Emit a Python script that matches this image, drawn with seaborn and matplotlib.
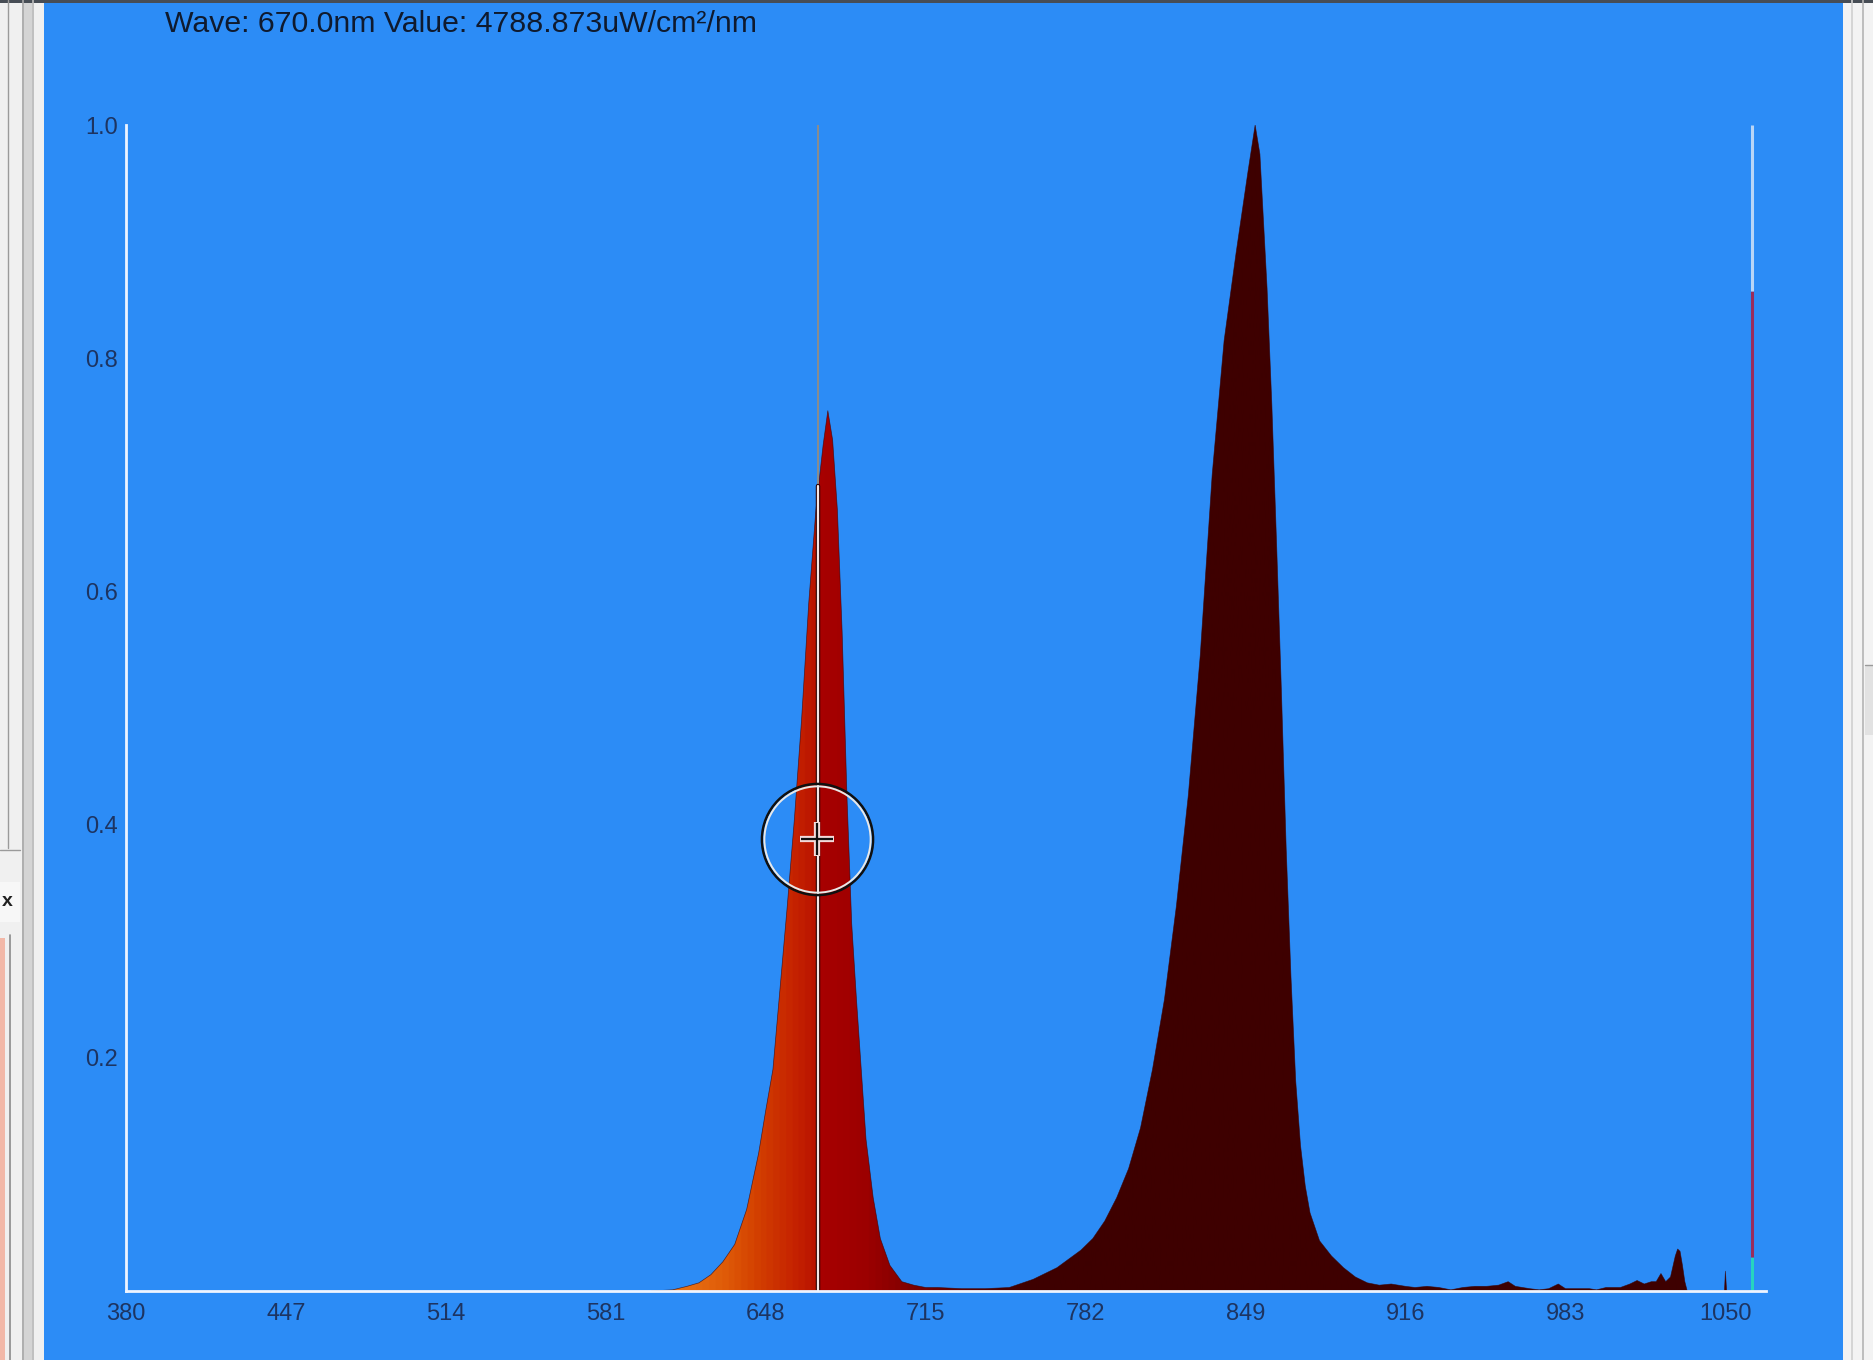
"""
分光スペクトル表示画面の再現
"""
import numpy as np
import matplotlib
matplotlib.use("Agg")
import matplotlib.pyplot as plt
import seaborn as sns
from matplotlib import font_manager
from matplotlib.colors import LinearSegmentedColormap
from matplotlib.patches import Rectangle
from matplotlib.lines import Line2D

# スペクトルデータ (波長 nm, 相対強度)
wavelength_nm = [600, 609, 615, 620, 625, 630, 635, 640, 645, 648, 651, 654, 657, 660,
                 663, 666, 669, 672, 674, 676, 678, 680, 682, 684, 686, 688, 690, 693,
                 696, 700, 705, 710, 715, 720, 730, 740, 750, 760, 770, 780, 785, 790,
                 795, 800, 805, 810, 815, 820, 825, 830, 835, 840, 845, 850, 853, 855,
                 858, 860, 862, 864, 866, 868, 870, 872, 874, 876, 880, 885, 890, 895,
                 900, 905, 910, 916, 920, 925, 930, 935, 940, 945, 950, 955, 959, 962,
                 968, 972, 976, 980, 983, 987, 993, 996, 1000, 1006, 1010, 1013, 1016,
                 1019, 1021, 1023, 1025, 1027, 1029, 1030, 1031, 1032, 1033, 1034,
                 1049, 1049.6, 1050, 1050.5, 1060]
intensity = [0.0, 0.001, 0.004, 0.007, 0.014, 0.025, 0.040, 0.070, 0.118, 0.155, 0.19,
             0.26, 0.33, 0.405, 0.49, 0.59, 0.67, 0.725, 0.755, 0.73, 0.67, 0.565, 0.425,
             0.315, 0.25, 0.19, 0.13, 0.08, 0.045, 0.022, 0.008, 0.005, 0.003, 0.003,
             0.002, 0.002, 0.003, 0.010, 0.020, 0.035, 0.045, 0.060, 0.080, 0.105, 0.140,
             0.190, 0.250, 0.330, 0.425, 0.545, 0.700, 0.815, 0.890, 0.960, 1.0, 0.975,
             0.86, 0.76, 0.64, 0.515, 0.38, 0.27, 0.18, 0.125, 0.09, 0.067, 0.043, 0.030,
             0.020, 0.012, 0.007, 0.005, 0.006, 0.004, 0.003, 0.004, 0.003, 0.001, 0.003,
             0.004, 0.004, 0.005, 0.008, 0.004, 0.002, 0.001, 0.002, 0.006, 0.002, 0.002,
             0.002, 0.001, 0.003, 0.003, 0.006, 0.009, 0.006, 0.008, 0.008, 0.015, 0.008,
             0.012, 0.030, 0.036, 0.034, 0.022, 0.008, 0.0, 0.0, 0.0, 0.017, 0.0, 0.0]

x_ticks = [380, 447, 514, 581, 648, 715, 782, 849, 916, 983, 1050]
y_ticks = [0.2, 0.4, 0.6, 0.8, 1.0]
y_tick_labels = ["0.2", "0.4", "0.6", "0.8", "1.0"]

cursor_nm = 670.0
cursor_value = 0.69
marker_value = 0.388
header = "Wave: 670.0nm Value: 4788.873uW/cm²/nm"

# 右端インジケータ (波長位置と区切りの高さ)
indicator_nm = 1061
indicator_levels = [0.0, 0.029, 0.858, 1.0]
indicator_colors = ["#27d3bf", "#9a2c5c", "#b9d5f6"]

# 波長に応じた塗り色
color_stops = [(380, "#e87214"), (612, "#e87214"), (630, "#e05c08"), (645, "#d23e00"),
               (660, "#c52200"), (669.8, "#b81200"), (670.2, "#a80000"), (690, "#9c0000"),
               (705, "#860000"), (720, "#680000"), (745, "#480000"), (760, "#3e0000"),
               (1067, "#3e0000")]

BLUE = "#2c8cf6"
W, H = 1873, 1360
X_MIN, X_MAX = 380, 1067

sns.set_theme(style="white")
names = {f.name for f in font_manager.fontManager.ttflist}
narrow = "Liberation Sans Narrow" if "Liberation Sans Narrow" in names else "Liberation Sans"
plt.rcParams["font.family"] = [narrow, "DejaVu Sans"]

fig = plt.figure(figsize=(W / 100, H / 100), dpi=100, facecolor=BLUE)
ax = fig.add_axes([126 / W, 1 - 1291 / H, (1766 - 126) / W, (1291 - 125) / H])
ax.set_facecolor(BLUE)


def px_rect(x0, y0, x1, y1, color, z=0):
    # 画面ピクセル座標 (左上原点) で矩形を置く
    fig.add_artist(Rectangle((x0 / W, 1 - y1 / H), (x1 - x0) / W, (y1 - y0) / H,
                             transform=fig.transFigure, facecolor=color,
                             edgecolor="none", zorder=z))


def px_line(x0, y0, x1, y1, color, lw=1.0):
    fig.add_artist(Line2D([x0 / W, x1 / W], [1 - y0 / H, 1 - y1 / H],
                          transform=fig.transFigure, color=color, lw=lw))


# 左右のウィンドウ枠
px_rect(0, 0, 44, H, "#f0f0f0")
px_rect(22, 0, 34, H, "#d4d4d4")
px_line(23, 0, 23, H, "#a8a8a8", 1.2)
px_line(33, 0, 33, H, "#bcbcbc", 1.2)
px_line(8, 0, 8, 848, "#9a9a9a", 1.0)
px_line(0, 850, 20, 850, "#9a9a9a", 1.0)
px_rect(0, 882, 20, 922, "#f7f7f7")
fig.text(2 / W, 1 - 902 / H, "x", fontsize=14, fontweight="bold", color="#202020",
         va="center", ha="left")
px_rect(0, 938, 5, H, "#f2b8a8")
px_line(10, 935, 10, H, "#8a8a8a", 1.2)
px_rect(1843, 0, W, H, "#f3f3f3")
px_line(1852, 0, 1852, H, "#d0d0d0", 1.2)
px_line(1863, 0, 1863, H, "#b4b4b4", 1.2)
px_rect(1865, 665, W, 735, "#e2e2e2")
px_line(1865, 665, W, 665, "#9a9a9a", 1.0)
px_rect(0, 0, W, 3, "#474d55")

# スペクトルの塗り (波長グラデーション)
poly = ax.fill_between(wavelength_nm, intensity, 0, facecolor="none", edgecolor="none")
stop_pos = [(nm - X_MIN) / (X_MAX - X_MIN) for nm, _ in color_stops]
cmap = LinearSegmentedColormap.from_list(
    "spec", list(zip(stop_pos, [c for _, c in color_stops])))
grad = np.linspace(0, 1, 2000).reshape(1, -1)
im = ax.imshow(grad, cmap=cmap, extent=(X_MIN, X_MAX, 0, 1.0), aspect="auto",
               origin="lower", interpolation="bilinear", zorder=2)
im.set_clip_path(poly.get_paths()[0], transform=ax.transData)

sns.lineplot(x=wavelength_nm, y=intensity, ax=ax, color="#3a0000", lw=0.5,
             alpha=0.7, estimator=None, sort=False, zorder=3)

# カーソル線
ax.plot([cursor_nm, cursor_nm], [0, 1.0], color="#8c8c8c", lw=1.4, zorder=4)
ax.plot([cursor_nm, cursor_nm], [0, cursor_value], color="#2a0000", lw=3.2, zorder=4)
ax.plot([cursor_nm, cursor_nm], [0, cursor_value], color="#f6e6e6", lw=1.6, zorder=5)

# 円形マーカーと十字
ax.plot([cursor_nm - 0.5], [marker_value], marker="o", ms=80, mfc="none", mec="#101010",
        mew=1.8, zorder=6)
ax.plot([cursor_nm - 0.5], [marker_value], marker="o", ms=76.5, mfc="none", mec="#e8e8e8",
        mew=1.4, zorder=6)
ax.plot([cursor_nm - 0.5], [marker_value], marker="+", ms=25, mec="#f2dada", mew=4.5,
        zorder=7)
ax.plot([cursor_nm - 0.5], [marker_value], marker="+", ms=23, mec="#101010", mew=1.6,
        zorder=8)

# 右端インジケータ
for (lo, hi), c in zip(zip(indicator_levels[:-1], indicator_levels[1:]), indicator_colors):
    ax.plot([indicator_nm, indicator_nm], [lo, hi], color=c, lw=2.2,
            solid_capstyle="butt", zorder=4)

ax.set_xlim(X_MIN, X_MAX)
ax.set_ylim(0, 1.0)
ax.set_xticks(x_ticks, [str(t) for t in x_ticks])
ax.set_yticks(y_ticks, y_tick_labels)
for side in ["top", "right"]:
    ax.spines[side].set_visible(False)
for side in ["left", "bottom"]:
    ax.spines[side].set_color("#eef4ff")
    ax.spines[side].set_linewidth(2.0)
    ax.spines[side].set_zorder(9)
ax.tick_params(axis="both", direction="in", color="#eef4ff", length=6, width=1.6,
               labelsize=17, labelcolor="#1d3461")
ax.tick_params(axis="x", pad=9)
ax.tick_params(axis="y", pad=6)
ax.grid(False)
ax.set_xlabel("")
ax.set_ylabel("")

fig.text(165 / W, 1 - 24 / H, header, fontsize=21.8, color="#0f1a2e", va="center",
         ha="left")

fig.savefig("out.png", dpi=100, facecolor=BLUE)
plt.close(fig)
